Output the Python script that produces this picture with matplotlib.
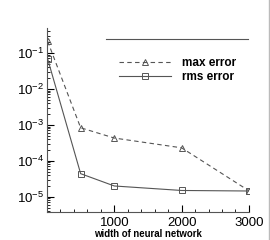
import matplotlib
matplotlib.use("Agg")
import matplotlib.pyplot as plt
from matplotlib.lines import Line2D
from matplotlib.ticker import LogLocator, MultipleLocator, NullFormatter

plt.rcParams['font.family'] = ['Liberation Sans', 'DejaVu Sans']

# widths of the neural network
widths = [10, 500, 1000, 2000, 3000]
max_error = [0.21, 8.3e-4, 4.3e-4, 2.3e-4, 1.47e-5]
rms_error = [0.068, 4.4e-5, 2.0e-5, 1.5e-5, 1.45e-5]

grau = '#555555'

fig = plt.figure(figsize=(2.7, 2.4), dpi=100)
ax = fig.add_axes([0.174, 0.117, 0.748, 0.766])

ax.plot(widths, max_error, color=grau, lw=0.8, ls=(0, (4, 3)),
        marker='^', ms=5, mfc='none', mec=grau, mew=0.7, label='max error')
ax.plot(widths, rms_error, color=grau, lw=0.8, ls='-',
        marker='s', ms=4.5, mfc='none', mec=grau, mew=0.7, label='rms error')

ax.set_yscale('log')
ax.set_xlim(0, 3000)
ax.set_ylim(10 ** -5.42, 10 ** -0.31)

# Tecplot-artiger Rahmen: nur linke und untere Achse
ax.spines['top'].set_visible(False)
ax.spines['right'].set_visible(False)
for s in ('left', 'bottom'):
    ax.spines[s].set_color(grau)
    ax.spines[s].set_linewidth(0.8)

ax.xaxis.set_major_locator(MultipleLocator(1000))
ax.xaxis.set_minor_locator(MultipleLocator(200))
ax.yaxis.set_major_locator(LogLocator(base=10, numticks=10))
ax.yaxis.set_minor_locator(LogLocator(base=10, subs=range(2, 10), numticks=10))
ax.yaxis.set_minor_formatter(NullFormatter())
ax.tick_params(which='both', direction='in', colors='black', labelsize=9.5, pad=2)
ax.tick_params(axis='x', which='major', pad=4)
ax.tick_params(which='major', length=5, width=0.8)
ax.tick_params(which='minor', length=2.5, width=0.6)
ax.set_xticks([1000, 2000, 3000])
ax.set_xticklabels(['1000', '2000', '3000'])

ax.set_xlabel('width of neural network', fontsize=6.9, fontweight='bold', labelpad=-0.5)

leg = ax.legend(loc='upper left', bbox_to_anchor=(0.305, 0.90), frameon=False,
                handlelength=4.4, handletextpad=0.9, labelspacing=0.15,
                numpoints=1, prop={'size': 8.5, 'weight': 'bold'})

# Linie über der Legende und rechter Bildrand
fig.add_artist(Line2D([106 / 270, 248 / 270], [1 - 39 / 240, 1 - 39 / 240],
                      color=grau, lw=0.8))
fig.add_artist(Line2D([269 / 270, 269 / 270], [0, 1], color='#bbbbbb', lw=1))

fig.savefig('out.png', dpi=100)
